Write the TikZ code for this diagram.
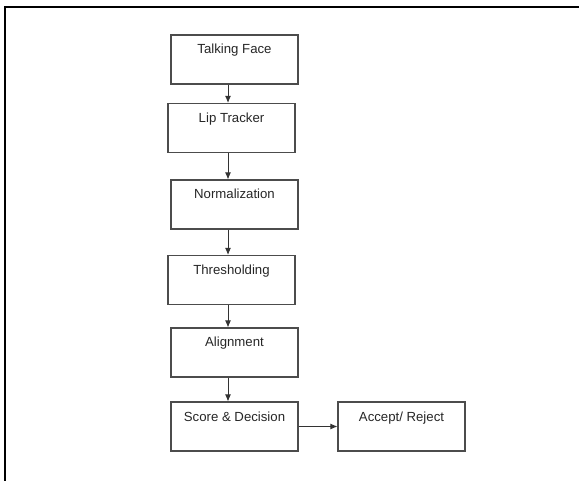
\documentclass[tikz,border=0pt]{standalone}
\usepackage{fontspec}
\setmainfont{Liberation Sans}
\usetikzlibrary{arrows.meta}
\begin{document}
\begin{tikzpicture}[x=1pt,y=-1pt,
  stepbox/.style={draw=black!70, line width=1.1pt, rectangle, minimum width=127pt,
    inner xsep=0pt, inner ysep=0pt, text height=19pt, text depth=30pt,
    font=\fontsize{13.2}{15}\selectfont, text=black!85},
  arr/.style={draw=black!80, line width=0.9pt, -{Latex[length=7pt,width=6pt]}}]
\useasboundingbox (0,0) rectangle (579,481);
\draw[line width=2pt] (5,481) -- (5,7) -- (579,7);
\node[stepbox] (tf) at (234.5,59.5) {Talking Face};
\node[stepbox] (lt) at (231.5,128) {Lip Tracker};
\node[stepbox] (no) at (234.5,204.5) {Normalization};
\node[stepbox] (th) at (231.5,280) {Thresholding};
\node[stepbox] (al) at (234.5,352.5) {Alignment};
\node[stepbox] (sd) at (234.5,426.5) {Score \& Decision};
\node[stepbox] (ar) at (401.5,426.5) {Accept/ Reject};
\coordinate (ax) at (228,0);
\draw[arr] (tf.south -| ax) -- (lt.north -| ax);
\draw[arr] (lt.south -| ax) -- (no.north -| ax);
\draw[arr] (no.south -| ax) -- (th.north -| ax);
\draw[arr] (th.south -| ax) -- (al.north -| ax);
\draw[arr] (al.south -| ax) -- (sd.north -| ax);
\draw[arr] (sd.east) -- (ar.west);
\end{tikzpicture}
\end{document}
